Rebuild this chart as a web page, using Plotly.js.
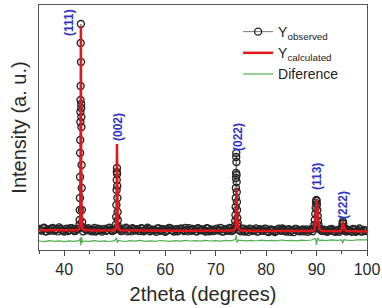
<!DOCTYPE html>
<html>
<head>
<meta charset="utf-8">
<script src="https://cdn.plot.ly/plotly-3.0.1.min.js"></script>
<style>html,body{margin:0;padding:0;background:#fff;}#chart{width:382px;height:308px;}</style>
</head>
<body>
<div id="chart"></div>
<script>
// ---- Observed pattern: background points (2theta, intensity a.u.) ----
var baseX = [35,35.5,36,36.5,37,37.5,38,38.5,39,39.5,40,40.5,41,41.5,42,42.5,
  44,44.5,45,45.5,46,46.5,47,47.5,48,48.5,49,49.5,50,
  51,51.5,52,52.5,53,53.5,54,54.5,55,55.5,56,56.5,57,57.5,58,58.5,59,59.5,60,60.5,61,61.5,62,62.5,63,63.5,64,64.5,65,65.5,66,66.5,67,67.5,68,68.5,69,69.5,70,70.5,71,71.5,72,72.5,73,73.5,
  74.5,75,75.5,76,76.5,77,77.5,78,78.5,79,79.5,80,80.5,81,81.5,82,82.5,83,83.5,84,84.5,85,85.5,86,86.5,87,87.5,88,88.5,89,
  91,91.5,92,92.5,93,93.5,94,94.5,
  95.5,96,96.5,97,97.5,98,98.5,99,99.5,100];
var baseY = [210,195,222,188,205,215,192,208,226,198,185,212,200,218,190,207,
  214,196,203,188,220,199,209,184,211,197,223,190,205,
  208,193,216,186,202,219,195,207,189,213,198,224,187,204,196,215,192,209,183,201,217,194,206,188,212,199,221,186,203,210,191,218,197,205,185,214,200,190,209,196,220,184,207,193,211,202,
  204,188,213,195,182,207,198,216,186,201,193,210,180,205,197,189,214,192,203,185,208,196,179,211,190,200,187,206,194,209,
  191,203,184,198,210,186,195,182,
  200,188,196,181,205,190,215,184,198,192];
var baseX2 = [35.25,35.75,36.25,36.75,37.25,37.75,38.25,38.75,39.25,39.75,40.25,40.75,41.25,41.75,42.25,42.75,
  43.75,44.25,44.75,45.25,45.75,46.25,46.75,47.25,47.75,48.25,48.75,49.25,49.75,
  50.75,51.25,51.75,52.25,52.75,53.25,53.75,54.25,54.75,55.25,55.75,56.25,56.75,57.25,57.75,58.25,58.75,59.25,59.75,60.25,60.75,61.25,61.75,62.25,62.75,63.25,63.75,64.25,64.75,65.25,65.75,66.25,66.75,67.25,67.75,68.25,68.75,69.25,69.75,70.25,70.75,71.25,71.75,72.25,72.75,73.25,73.75,
  74.75,75.25,75.75,76.25,76.75,77.25,77.75,78.25,78.75,79.25,79.75,80.25,80.75,81.25,81.75,82.25,82.75,83.25,83.75,84.25,84.75,85.25,85.75,86.25,86.75,87.25,87.75,88.25,88.75,89.25,
  90.75,91.25,91.75,92.25,92.75,93.25,93.75,94.25,94.75,
  95.75,96.25,96.75,97.25,97.75,98.25,98.75,99.25,99.75];
var baseY2 = [199,216,187,209,194,221,203,186,213,196,208,190,219,201,193,212,
  188,207,217,193,202,185,214,198,206,191,219,201,196,
  215,189,204,222,196,186,210,201,193,218,187,205,213,194,200,182,216,197,208,190,221,199,185,207,196,214,189,203,219,192,206,184,211,200,195,217,188,204,192,213,198,186,209,195,220,190,215,
  196,210,185,203,214,191,199,184,208,195,212,187,201,193,180,206,198,215,189,204,183,199,210,192,186,205,197,181,202,188,
  204,190,199,185,207,193,181,201,196,
  187,203,193,210,182,199,186,201,189];
// ---- Observed pattern: Bragg peak points ----
var peakX = [43.00,43.05,43.08,43.11,43.13,43.15,43.17,43.19,43.21,43.23,43.25,43.27,43.30,43.33,43.35,43.37,43.39,43.41,43.44,43.47,43.50,43.54,43.60,
  50.25,50.30,50.34,50.38,50.41,50.43,50.45,50.48,50.51,50.54,50.58,50.62,50.67,
  73.82,73.88,73.93,73.97,74.00,74.02,74.04,74.06,74.08,74.10,74.13,74.15,74.17,74.19,74.22,74.25,74.30,74.36,74.44,
  89.40,89.55,89.65,89.75,89.83,89.90,89.96,90.02,90.08,90.15,90.22,90.30,90.40,90.55,
  94.90,95.05,95.15,95.22,95.30,95.40,95.55];
var peakY = [250,300,400,520,730,970,1100,1280,1380,1500,1640,2070,2260,1880,1460,1420,1330,1230,850,620,400,280,230,
  255,330,450,600,700,780,820,760,640,520,380,300,240,
  240,290,350,430,520,620,720,770,930,970,880,750,680,580,480,400,320,270,235,
  215,250,300,360,420,470,500,490,455,400,340,290,250,215,
  200,230,265,285,265,230,205];
// ---- Calculated (Rietveld) profile ----
var calcX = [35,38,41,42.6,42.9,43.0,43.1,43.15,43.2,43.25,43.3,43.35,43.4,43.45,43.5,43.6,43.7,44.0,46,48,
  49.8,50.1,50.2,50.3,50.35,50.4,50.45,50.5,50.55,50.6,50.7,50.9,51.2,55,60,65,70,
  73.4,73.8,73.9,74.0,74.05,74.12,74.2,74.28,74.35,74.45,74.6,75.0,78,82,86,
  89.3,89.6,89.75,89.85,89.93,90.0,90.08,90.18,90.28,90.4,90.55,90.8,91.2,93,
  94.7,95.0,95.1,95.2,95.3,95.42,95.6,96.0,98,100];
var calcY = [198,198,197,198,206,215,245,290,420,900,2240,900,420,290,245,215,206,199,196,196,
  198,205,215,250,300,500,1060,520,310,255,218,204,198,194,193,192,191,
  194,205,220,270,380,620,420,300,250,222,208,196,190,189,188,
  190,205,250,350,480,510,470,390,310,250,215,198,190,187,
  188,205,240,285,260,222,200,190,186,186];
// ---- Difference curve ----
var diffX = [35,36,37,38,39,40,41,42,43,43.2,43.3,43.4,43.6,44,45,46,47,48,49,50,50.4,50.5,50.7,51,52,53,54,55,56,57,58,59,60,61,62,63,64,65,66,67,68,69,70,71,72,73,73.9,74.1,74.25,74.5,75,76,77,78,79,80,81,82,83,84,85,86,87,88,89,89.8,90.0,90.2,90.5,91,92,93,94,95,95.2,95.4,96,97,98,99,100];
var diffY = [90,84,93,86,91,83,92,87,94,120,45,135,80,90,86,93,87,91,85,93,125,70,95,91,85,93,89,96,87,92,86,95,91,86,94,89,96,90,93,88,96,90,94,89,97,91,104,148,74,99,97,91,96,90,99,94,97,91,100,93,97,91,99,95,100,115,50,120,96,98,94,102,96,100,68,104,99,95,102,98,101];
// ---- Peak (hkl) labels ----
var hklText = ['(111)','(002)','(022)','(113)','(222)'];
var hklX = [40.95, 50.66, 74.44, 90.1, 95.25];
var hklY = [2270, 1230, 1130, 730, 450];

// merge observed background + peak points in 2theta order
var obs = [];
for (var i = 0; i < baseX.length; i++) obs.push([baseX[i], baseY[i]]);
for (var i2 = 0; i2 < baseX2.length; i2++) obs.push([baseX2[i2], baseY2[i2]]);
for (var j = 0; j < peakX.length; j++) obs.push([peakX[j], peakY[j]]);
obs.sort(function(a, b){ return a[0] - b[0]; });
var obsX = obs.map(function(p){ return p[0]; });
var obsY = obs.map(function(p){ return p[1]; });

var font = 'Liberation Sans, Arial, Helvetica, sans-serif';
var traces = [
  {x: obsX, y: obsY, type: 'scatter', mode: 'lines+markers', name: 'Y<sub>observed</sub>',
   line: {color: '#7a7a7a', width: 1},
   marker: {symbol: 'circle-open', size: 7, color: '#262626', line: {width: 1.4}}},
  {x: calcX, y: calcY, type: 'scatter', mode: 'lines', name: 'Y<sub>calculated</sub>',
   line: {color: '#e3161c', width: 2.5}},
  {x: diffX, y: diffY, type: 'scatter', mode: 'lines', name: 'Diference',
   line: {color: '#4fae4f', width: 1.2}}
];
var annotations = hklText.map(function(t, k){
  return {x: hklX[k], y: hklY[k], xref: 'x', yref: 'y', text: '<b>' + t + '</b>', showarrow: false,
    textangle: -90, font: {family: font, size: 12, color: '#2f35c8'}};
});
var layout = {
  width: 382, height: 308,
  margin: {l: 39, r: 15, t: 5, b: 58},
  paper_bgcolor: '#fff', plot_bgcolor: '#fff',
  font: {family: font, color: '#2a2a2a'},
  showlegend: true,
  legend: {x: 0.607, y: 0.955, xanchor: 'left', yanchor: 'top', bgcolor: 'rgba(0,0,0,0)',
    font: {family: font, size: 14, color: '#222'}, tracegroupgap: 0},
  xaxis: {range: [35, 100], dtick: 10, tick0: 0, ticks: 'outside', ticklen: 5, tickwidth: 1, tickcolor: '#444',
    minor: {dtick: 5, ticks: 'outside', ticklen: 3, tickcolor: '#444'},
    showline: true, mirror: true, linecolor: '#555', linewidth: 1, showgrid: false, zeroline: false,
    tickfont: {family: font, size: 16, color: '#2a2a2a'},
    title: {text: '2theta (degrees)', font: {family: font, size: 20, color: '#2a2a2a'}, standoff: 9}},
  yaxis: {range: [0, 2450], showticklabels: false, ticks: '', showline: true, mirror: true,
    linecolor: '#555', linewidth: 1, showgrid: false, zeroline: false,
    title: {text: 'Intensity (a. u.)', font: {family: font, size: 20, color: '#2a2a2a'}, standoff: 6}},
  annotations: annotations
};
Plotly.newPlot('chart', traces, layout, {displayModeBar: false, staticPlot: true});
</script>
</body>
</html>
